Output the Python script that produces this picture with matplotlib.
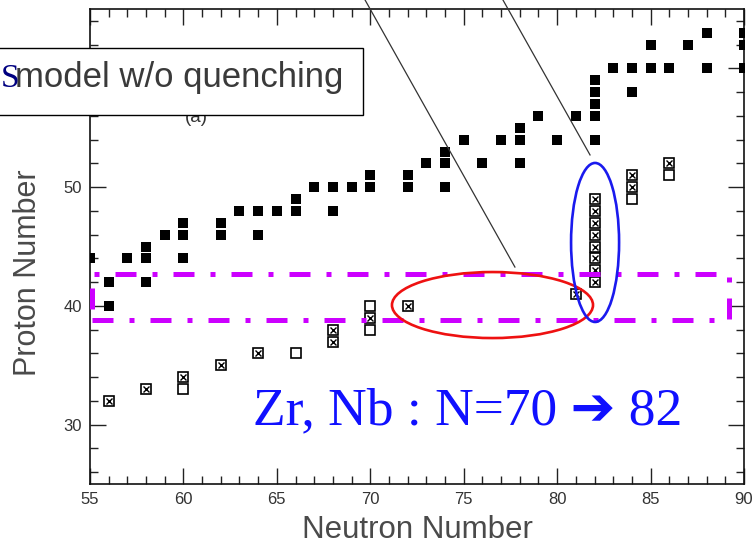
import matplotlib
matplotlib.use("Agg")
import matplotlib.pyplot as plt
from matplotlib.patches import Ellipse, Rectangle
from matplotlib.ticker import MultipleLocator

# ---------------- data ----------------
filled_neutron = [55, 56, 56, 57, 58, 58, 58, 59, 60, 60, 60, 62, 62, 63, 64, 64,
                  65, 66, 66, 67, 68, 68, 69, 70, 70, 72, 72, 73, 74, 74, 74, 75,
                  76, 77, 78, 78, 78, 79, 80, 81, 82, 82, 82, 82, 82, 83, 84, 84,
                  85, 85, 86, 87, 88, 88, 90, 90, 90]
filled_proton = [44, 42, 40, 44, 45, 44, 42, 46, 47, 46, 44, 47, 46, 48, 48, 46,
                 48, 49, 48, 50, 50, 48, 50, 51, 50, 51, 50, 52, 53, 52, 50, 54,
                 52, 54, 55, 54, 52, 56, 54, 56, 59, 58, 57, 56, 54, 60, 60, 58,
                 62, 60, 60, 62, 63, 60, 63, 62, 60]

crossed_neutron = [56, 58, 60, 62, 64, 68, 68, 70, 72, 81,
                   82, 82, 82, 82, 82, 82, 82, 82, 84, 84, 86]
crossed_proton = [32, 33, 34, 35, 36, 38, 37, 39, 40, 41,
                  42, 43, 44, 45, 46, 47, 48, 49, 51, 50, 52]

open_neutron = [60, 66, 70, 70, 84, 86]
open_proton = [33, 36, 40, 38, 49, 51]

x_ticks = [55, 60, 65, 70, 75, 80, 85, 90]
y_ticks = [30, 40, 50, 60]
y_tick_labels = ["30", "40", "50", ""]   # the 60 label is covered by the box

x_label = "Neutron Number"
y_label = "Proton Number"
box_text_s = "S"
box_text = "model w/o quenching"
panel_text = "(a)"
note_text = "Zr, Nb : N=70 \u2794 82"

# ---------------- figure ----------------
plt.rcParams["font.family"] = ["Liberation Sans", "DejaVu Sans"]

W, H = 753, 549
fig = plt.figure(figsize=(W / 100, H / 100), dpi=100)
fig.patch.set_facecolor("white")
ax = fig.add_axes([90 / W, 1 - 484 / H, 654 / W, 475 / H])

ax.set_xlim(55, 90)
ax.set_ylim(25, 65)

ax.plot(filled_neutron, filled_proton, "s", ms=7.4, color="black", mew=0, zorder=3)
ax.plot(crossed_neutron, crossed_proton, "s", ms=7.6, mfc="white", mec="black",
        mew=1.2, zorder=3)
ax.plot(crossed_neutron, crossed_proton, "x", ms=4.3, color="black", mew=1.0,
        zorder=4)
ax.plot(open_neutron, open_proton, "s", ms=7.6, mfc="white", mec="black",
        mew=1.2, zorder=3)

# ticks
ax.set_xticks(x_ticks)
ax.set_yticks(y_ticks)
ax.set_yticklabels(y_tick_labels)
ax.xaxis.set_minor_locator(MultipleLocator(1))
ax.yaxis.set_minor_locator(MultipleLocator(2))
ax.tick_params(which="both", direction="in", top=True, right=True,
               width=1.0, color="#222222")
ax.tick_params(which="major", length=11.5, labelsize=12, labelcolor="#333333",
               pad=6)
ax.tick_params(which="minor", length=6)
for s in ax.spines.values():
    s.set_linewidth(1.2)
    s.set_color("#111111")

# axis labels
ax.set_xlabel(x_label, fontsize=22.5, color="#4a4a4a")
ax.set_ylabel(y_label, fontsize=22, color="#4a4a4a")
ax.xaxis.set_label_coords(0.5, (484 - 530) / 475)
ax.xaxis.label.set_va("center")
ax.yaxis.set_label_coords((28 - 90) / 654, 1 - (273 - 9) / 475)
ax.yaxis.label.set_va("center")

# slanted guide lines (extend above the frame)
ax.plot([69.72, 77.74], [65.76, 43.27], color="#333333", lw=0.9,
        clip_on=False, zorder=5)
ax.plot([77.10, 81.76], [65.76, 52.71], color="#333333", lw=0.9,
        clip_on=False, zorder=5)

# magenta dash-dot rectangle
rect = Rectangle((55.1, 38.81), 89.2 - 55.1, 42.68 - 38.81, fill=False,
                 edgecolor="#cc00ff", lw=3.6,
                 linestyle=(0, (4.2, 3.2, 1.0, 3.2)), capstyle="butt",
                 clip_on=False, zorder=6)
ax.add_patch(rect)

# ellipses
ax.add_patch(Ellipse((76.54, 40.07), 10.76, 5.56, fill=False,
                     edgecolor="#ee1111", lw=1.9, zorder=7, clip_on=False))
ax.add_patch(Ellipse((82.03, 45.34), 2.57, 13.39, fill=False,
                     edgecolor="#1a1aee", lw=1.9, zorder=7, clip_on=False))

# big note
ax.text(75.2, 30.0, note_text, ha="center", va="baseline", fontsize=38.5,
        color="#1010ff", family=["Liberation Serif", "DejaVu Sans"], zorder=8)

# panel label (partly hidden by the box, as in the reference)
fig.text(196 / W, 1 - 122 / H, panel_text, ha="center", va="baseline",
         fontsize=13.5, color="#333333", zorder=2)

# text box in figure coordinates
box = Rectangle((-0.01, 1 - 115 / H), 363 / W + 0.01, 67 / H,
                transform=fig.transFigure, facecolor="white",
                edgecolor="black", lw=1.0, zorder=10)
fig.patches.append(box)
fig.text(15 / W, 1 - 87 / H, box_text, ha="left", va="baseline",
         fontsize=25, color="#3a3a3a", zorder=11)
fig.text(1 / W, 1 - 87 / H, box_text_s, ha="left", va="baseline",
         fontsize=24, color="#000080", family="Liberation Serif", zorder=12)

fig.savefig("out.png", dpi=100)
